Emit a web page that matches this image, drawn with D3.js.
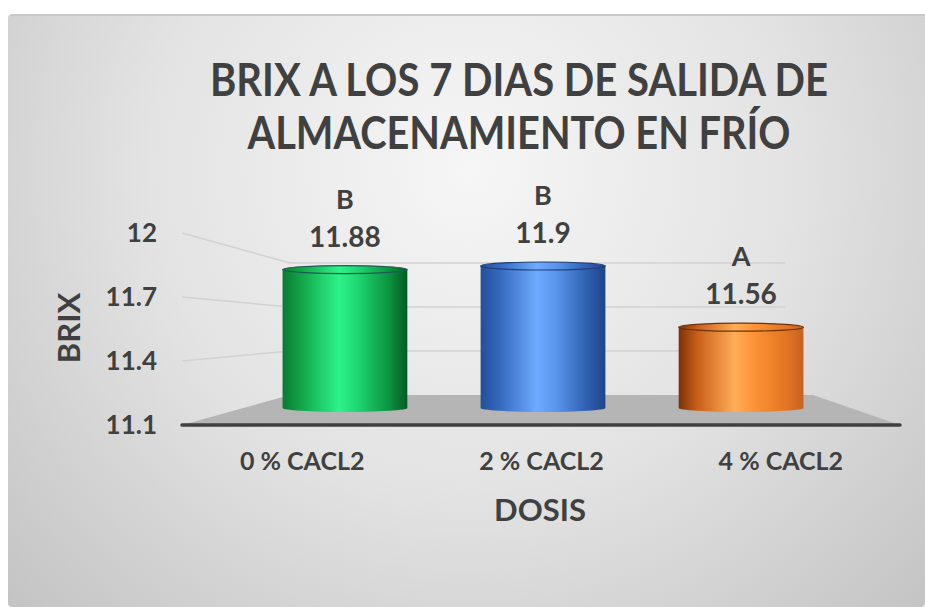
<!DOCTYPE html>
<html>
<head>
<meta charset="utf-8">
<script src="https://cdn.jsdelivr.net/npm/d3@7"></script>
<style>
  html, body { margin: 0; padding: 0; background: #ffffff; }
  text { font-family: Lato, "Open Sans", sans-serif; font-weight: bold; fill: #404040; }
</style>
</head>
<body>
<div id="chart"></div>
<script>
// datos del grafico
const categorias = ["0 % CACL2", "2 % CACL2", "4 % CACL2"];
const valores = [11.88, 11.9, 11.56];
const letras = ["B", "B", "A"];
const ticksY = [11.1, 11.4, 11.7, 12];
const titulo = ["BRIX A LOS 7 DIAS DE SALIDA DE", "ALMACENAMIENTO EN FRÍO"];

const width = 925, height = 607;

const svg = d3.select("#chart").append("svg")
    .attr("width", width)
    .attr("height", height);

const defs = svg.append("defs");

// fondo con degradado radial
const bg = defs.append("radialGradient")
    .attr("id", "bg")
    .attr("gradientUnits", "userSpaceOnUse")
    .attr("cx", 470).attr("cy", 170).attr("r", 640);
bg.append("stop").attr("offset", 0).attr("stop-color", "#f6f6f6");
bg.append("stop").attr("offset", 0.5).attr("stop-color", "#e3e3e3");
bg.append("stop").attr("offset", 1).attr("stop-color", "#c3c3c3");

svg.append("rect")
    .attr("x", 8).attr("y", 14)
    .attr("width", width - 8).attr("height", height - 14)
    .attr("rx", 4)
    .attr("fill", "url(#bg)");
svg.append("line")
    .attr("x1", 11).attr("x2", width)
    .attr("y1", 15).attr("y2", 15)
    .attr("stroke", "#c9c9c9").attr("stroke-width", 2);

// escalas: pared frontal y pared del fondo (perspectiva)
const dominio = [11.1, 12];
const yFront = d3.scaleLinear().domain(dominio).range([425, 233]);
const yBack = d3.scaleLinear().domain(dominio).range([395, 263]);
const xFront = [182, 900];
const xBack = [290, 800];

// profundidad media para los cilindros
const t = 0.5;
const yBar = d3.scaleLinear().domain(dominio)
    .range([d3.interpolate(yFront.range()[0], yBack.range()[0])(t),
            d3.interpolate(yFront.range()[1], yBack.range()[1])(t)]);
const xBar = d3.scalePoint().domain(categorias)
    .range([d3.interpolate(xFront[0], xBack[0])(t), d3.interpolate(xFront[1], xBack[1])(t)])
    .padding(0.55);
const xCat = d3.scalePoint().domain(categorias).range(xFront).padding(0.5);

// piso
svg.append("path")
    .attr("d", d3.line()([
        [xFront[0], yFront(dominio[0])],
        [xBack[0], yBack(dominio[0])],
        [813, yBack(dominio[0])],
        [xFront[1], yFront(dominio[0])]
    ]) + "Z")
    .attr("fill", "#b5b5b5");

// lineas de division (pared lateral + pared del fondo)
svg.append("g").selectAll("path")
    .data(ticksY.filter(d => d > dominio[0]))
    .enter().append("path")
    .attr("d", d => d3.line()([[xFront[0], yFront(d)], [xBack[0], yBack(d)], [785, yBack(d)]]))
    .attr("fill", "none")
    .attr("stroke", "#d2d2d2")
    .attr("stroke-width", 1.5);

// eje X (linea frontal)
svg.append("line")
    .attr("x1", xFront[0]).attr("x2", xFront[1])
    .attr("y1", yFront(dominio[0])).attr("y2", yFront(dominio[0]))
    .attr("stroke", "#404040").attr("stroke-width", 3.5)
    .attr("stroke-linecap", "round");

// degradados de los cilindros
const colores = [
    ["#0a7a33", "#12a547", "#2df28a", "#1fd672", "#0c9440", "#065a26"],
    ["#234f98", "#3468bd", "#6eaaff", "#5b96ee", "#2f60b0", "#1f4488"],
    ["#7a3309", "#c95f1a", "#ffad58", "#fb9338", "#e47722", "#c56220"]
];
const offs = [0, 0.15, 0.45, 0.6, 0.85, 1];
colores.forEach((c, i) => {
    const g = defs.append("linearGradient")
        .attr("id", "cil" + i)
        .attr("x1", 0).attr("x2", 1).attr("y1", 0).attr("y2", 0);
    c.forEach((col, j) => g.append("stop").attr("offset", offs[j]).attr("stop-color", col));
});
const bordes = ["#1d5a55", "#1f3f78", "#6a3210"];

const bw = xBar.step() * 0.63;
const ry = 4;
const barras = svg.append("g").selectAll("g")
    .data(valores)
    .enter().append("g");

barras.append("path")
    .attr("d", (d, i) => {
        const cx = xBar(categorias[i]);
        const x0 = cx - bw / 2, x1 = cx + bw / 2;
        const yt = yBar(d), yb = yBar(dominio[0]) - 2;
        return `M${x0},${yt} L${x0},${yb} A${bw / 2},${ry} 0 0 0 ${x1},${yb} L${x1},${yt} Z`;
    })
    .attr("fill", (d, i) => `url(#cil${i})`);

barras.append("ellipse")
    .attr("cx", (d, i) => xBar(categorias[i]))
    .attr("cy", d => yBar(d))
    .attr("rx", bw / 2)
    .attr("ry", ry)
    .attr("fill", (d, i) => `url(#cil${i})`)
    .attr("stroke", (d, i) => bordes[i])
    .attr("stroke-width", 1.2);

// etiquetas de datos
barras.append("text")
    .attr("x", (d, i) => xBar(categorias[i]))
    .attr("y", d => yBar(d) - 23)
    .attr("text-anchor", "middle")
    .style("font-size", "28px")
    .text(d => d);

barras.append("text")
    .attr("x", (d, i) => xBar(categorias[i]))
    .attr("y", d => yBar(d) - 61)
    .attr("text-anchor", "middle")
    .style("font-size", "27px")
    .text((d, i) => letras[i]);

// eje Y
const ejeY = svg.append("g")
    .attr("transform", `translate(${xFront[0]},0)`)
    .call(d3.axisLeft(yFront).tickValues(ticksY).tickSize(0).tickPadding(25).tickFormat(d3.format("")));
ejeY.select(".domain").remove();
ejeY.selectAll("text")
    .attr("fill", "#404040")
    .style("font-size", "26px")
    .style("font-family", "Lato, sans-serif");

// eje X categorias
const ejeX = svg.append("g")
    .attr("transform", `translate(0,${yFront(dominio[0])})`)
    .call(d3.axisBottom(xCat).tickSize(0).tickPadding(27));
ejeX.select(".domain").remove();
ejeX.selectAll("text")
    .attr("fill", "#404040")
    .style("font-size", "25px")
    .style("font-family", "Lato, sans-serif");

// titulos
svg.append("text")
    .attr("x", 519).attr("y", 96)
    .attr("text-anchor", "middle")
    .attr("textLength", 618).attr("lengthAdjust", "spacingAndGlyphs")
    .style("font-size", "46px")
    .text(titulo[0]);
svg.append("text")
    .attr("x", 519).attr("y", 149)
    .attr("text-anchor", "middle")
    .attr("textLength", 543).attr("lengthAdjust", "spacingAndGlyphs")
    .style("font-size", "46px")
    .text(titulo[1]);

svg.append("text")
    .attr("transform", "translate(80,328) rotate(-90)")
    .attr("text-anchor", "middle")
    .style("font-size", "31px")
    .text("BRIX");

svg.append("text")
    .attr("x", 540).attr("y", 521)
    .attr("text-anchor", "middle")
    .style("font-size", "31px")
    .text("DOSIS");
</script>
</body>
</html>
